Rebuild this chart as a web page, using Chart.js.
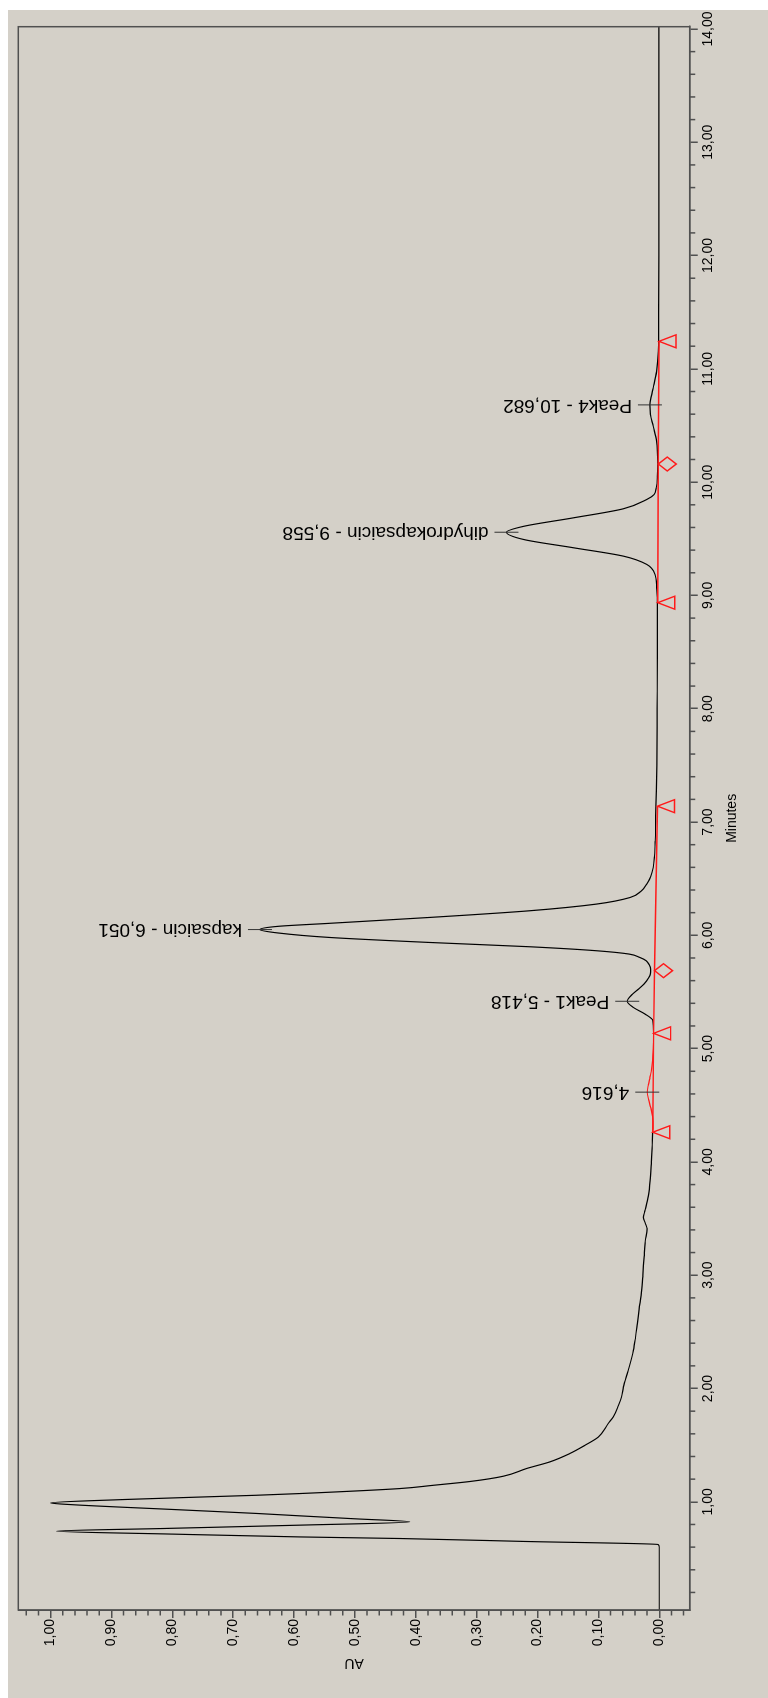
<!DOCTYPE html>
<html>
<head>
<meta charset="utf-8">
<script src="https://cdn.jsdelivr.net/npm/chart.js@4.4.1/dist/chart.umd.min.js"></script>
<style>
  html, body { margin: 0; padding: 0; background: #fff; }
  body { width: 768px; height: 1698px; overflow: hidden; position: relative; }
  /* chart is drawn landscape, then turned a quarter to the left */
  #wrap { position: absolute; left: 0; top: 0; width: 1698px; height: 768px;
          transform-origin: 0 0; transform: translate(0, 1698px) rotate(-90deg); }
</style>
</head>
<body>
<div id="wrap"><canvas id="chromChart" width="1698" height="768"></canvas></div>
<script>
// detector trace
const traceMinutes = [0.045, 0.30, 0.60, 0.623, 0.65, 0.676, 0.69, 0.715, 0.741, 0.765, 0.794, 0.823, 0.85, 0.876, 0.897, 0.93, 0.976, 0.99, 1.02, 1.058,
  1.073, 1.117, 1.146, 1.18, 1.226, 1.294, 1.352, 1.426, 1.499, 1.572, 1.69, 1.749, 1.852, 1.925, 2.013, 2.16, 2.337, 2.45, 2.572, 2.70,
  2.866, 3.00, 3.16, 3.30, 3.41, 3.46, 3.512, 3.56, 3.60, 3.70, 3.836, 4.00, 4.15, 4.262, 4.306, 4.40, 4.482, 4.55, 4.616, 4.68,
  4.747, 4.82, 4.894, 5.00, 5.135, 5.247, 5.306, 5.364, 5.418, 5.482, 5.53, 5.57, 5.62, 5.659, 5.70, 5.74, 5.776, 5.805, 5.835, 5.864,
  5.899, 5.937, 5.981, 6.02, 6.051, 6.08, 6.105, 6.158, 6.217, 6.276, 6.334, 6.39, 6.452, 6.52, 6.599, 6.70, 6.834, 7.00, 7.14, 7.50,
  8.00, 8.50, 8.936, 9.068, 9.186, 9.274, 9.347, 9.421, 9.494, 9.558, 9.61, 9.685, 9.765, 9.847, 9.891, 9.95, 10.05, 10.16, 10.36, 10.494,
  10.60, 10.682, 10.76, 10.832, 10.979, 11.155, 11.50, 12.00, 13.00, 14.02];
const traceAU = [0, 0, 0, 0.002, 0.22, 0.426, 0.59, 0.80, 0.99, 0.81, 0.59, 0.41, 0.50, 0.59, 0.661, 0.79, 0.969, 1.0, 0.88, 0.661,
  0.59, 0.426, 0.371, 0.31, 0.256, 0.218, 0.180, 0.147, 0.122, 0.100, 0.084, 0.0756, 0.067, 0.062, 0.059, 0.051, 0.0425, 0.039, 0.036, 0.033,
  0.029, 0.027, 0.025, 0.023, 0.020, 0.023, 0.026, 0.024, 0.022, 0.018, 0.015, 0.013, 0.0115, 0.0108, 0.0100, 0.011, 0.0141, 0.0175, 0.0197, 0.018,
  0.0153, 0.0125, 0.0108, 0.0098, 0.0095, 0.0105, 0.0235, 0.0427, 0.0526, 0.0437, 0.033, 0.0251, 0.018, 0.0145, 0.0141, 0.0165, 0.0215, 0.032, 0.050, 0.103,
  0.2125, 0.377, 0.541, 0.625, 0.656, 0.625, 0.545, 0.377, 0.2125, 0.103, 0.048, 0.030, 0.0207, 0.014, 0.0099, 0.0078, 0.0066, 0.006, 0.0055, 0.004,
  0.0035, 0.003, 0.003, 0.0043, 0.0071, 0.0207, 0.059, 0.141, 0.223, 0.251, 0.223, 0.141, 0.059, 0.0207, 0.0085, 0.005, 0.003, 0.0025, 0.0043, 0.0099,
  0.0145, 0.0153, 0.013, 0.0099, 0.0043, 0.0016, 0.001, 0.0008, 0.0006, 0.0005];

// integration baselines (red) and their start/end marks
const base1Minutes = [4.262, 5.135, 5.688, 7.14];
const base1AU = [0.0108, 0.0093, 0.0078, 0.0030];
const base1Marks = ['tri', 'tri', 'dia', 'tri'];
const base2Minutes = [8.936, 10.16, 11.243];
const base2AU = [0.0026, 0.0016, 0.0005];
const base2Marks = ['tri', 'dia', 'tri'];

// peak annotations
const peakNames = ['4,616', 'Peak1 - 5,418', 'kapsaicin - 6,051', 'dihydrokapsaicin - 9,558', 'Peak4 - 10,682'];
const peakMinutes = [4.616, 5.418, 6.051, 9.558, 10.682];
const peakAU = [0.0197, 0.0526, 0.656, 0.251, 0.0153];

const minuteTicks = [1, 2, 3, 4, 5, 6, 7, 8, 9, 10, 11, 12, 13, 14];
const auTicks = [0, 0.1, 0.2, 0.3, 0.4, 0.5, 0.6, 0.7, 0.8, 0.9, 1.0];

const FONT = '"Liberation Sans", Arial, sans-serif';
const AXIS_GREY = '#505050';
const RED_FROM = 4.262, RED_TO = 5.135;

const fmt = v => v.toFixed(2).replace('.', ',');
const pts = (xs, ys) => xs.map((x, i) => ({ x: x, y: ys[i] }));

function drawMark(c, kind, px, py) {
    c.beginPath();
    if (kind === 'tri') {
        c.moveTo(px, py);
        c.lineTo(px - 6.5, py + 17);
        c.lineTo(px + 6.5, py + 17);
    } else {
        c.moveTo(px, py);
        c.lineTo(px + 7, py + 9);
        c.lineTo(px, py + 18);
        c.lineTo(px - 7, py + 9);
    }
    c.closePath();
    c.stroke();
}

const decor = {
    id: 'decor',
    beforeDraw(chart) {
        const c = chart.ctx;
        c.save();
        c.fillStyle = '#d4d0c8';
        c.fillRect(0, 8, 1688, 760);
        c.restore();
    },
    afterDraw(chart) {
        const c = chart.ctx, a = chart.chartArea;
        const xs = chart.scales.x, ys = chart.scales.y;
        c.save();

        // frame round the plot
        c.strokeStyle = AXIS_GREY;
        c.lineWidth = 1.5;
        c.strokeRect(a.left, a.top, a.right - a.left, a.bottom - a.top);

        // minor ticks
        c.beginPath();
        for (let i = 1; i <= 70; i++) {
            if (i % 5 === 0) continue;
            const px = xs.getPixelForValue(i * 0.2);
            if (px < a.left || px > a.right) continue;
            c.moveTo(px, a.bottom);
            c.lineTo(px, a.bottom + 5.5);
        }
        for (let i = -2; i <= 52; i++) {
            if (i % 5 === 0) continue;
            const py = ys.getPixelForValue(i * 0.02);
            if (py < a.top || py > a.bottom) continue;
            c.moveTo(a.left, py);
            c.lineTo(a.left - 5.5, py);
        }
        c.stroke();

        // baseline marks
        c.strokeStyle = '#ff1a1a';
        c.lineWidth = 1.4;
        [[base1Minutes, base1AU, base1Marks], [base2Minutes, base2AU, base2Marks]].forEach(([mx, my, mk]) => {
            mx.forEach((m, i) => drawMark(c, mk[i], xs.getPixelForValue(m), ys.getPixelForValue(my[i])));
        });

        // peak labels
        c.strokeStyle = '#333';
        c.lineWidth = 1;
        c.fillStyle = '#000';
        c.font = '19px ' + FONT;
        peakNames.forEach((name, i) => {
            const px = xs.getPixelForValue(peakMinutes[i]);
            const py = ys.getPixelForValue(peakAU[i]);
            c.beginPath();
            c.moveTo(px, py - 12);
            c.lineTo(px, py + 12);
            c.stroke();
            c.save();
            c.translate(px, py - 18);
            c.rotate(-Math.PI / 2);
            c.textAlign = 'left';
            c.textBaseline = 'middle';
            c.fillText(name, 0, 0);
            c.restore();
        });
        c.restore();
    }
};

const ctx = document.getElementById('chromChart').getContext('2d');
new Chart(ctx, {
    type: 'line',
    data: {
        datasets: [
            {
                data: pts(traceMinutes, traceAU),
                borderColor: '#000',
                borderWidth: 1.2,
                pointRadius: 0,
                cubicInterpolationMode: 'monotone',
                order: 2,
                segment: {
                    borderColor: s => (s.p0.parsed.x >= RED_FROM - 1e-9 && s.p1.parsed.x <= RED_TO + 1e-9) ? '#ff1a1a' : '#000'
                }
            },
            { data: pts(base1Minutes, base1AU), borderColor: '#ff1a1a', borderWidth: 1.4, pointRadius: 0, tension: 0, order: 1 },
            { data: pts(base2Minutes, base2AU), borderColor: '#ff1a1a', borderWidth: 1.4, pointRadius: 0, tension: 0, order: 1 }
        ]
    },
    options: {
        responsive: false,
        animation: false,
        layout: { padding: { top: 18.3, right: 26.7, left: 0, bottom: 0 } },
        plugins: { legend: { display: false }, tooltip: { enabled: false } },
        scales: {
            x: {
                type: 'linear',
                min: 0.045,
                max: 14.02,
                afterBuildTicks: s => { s.ticks = minuteTicks.map(v => ({ value: v })); },
                afterFit: s => { s.height = 78.3; },
                ticks: { callback: fmt, font: { size: 14, family: FONT }, color: '#000', padding: 2, maxRotation: 0, autoSkip: false },
                grid: { drawOnChartArea: false, tickLength: 8, color: AXIS_GREY, lineWidth: 1.5 },
                border: { display: true, color: AXIS_GREY, width: 1.5 },
                title: { display: true, text: 'Minutes', color: '#000', font: { size: 14, family: FONT }, padding: { top: 0, bottom: 27.6 } }
            },
            y: {
                type: 'linear',
                min: -0.05,
                max: 1.053,
                afterBuildTicks: s => { s.ticks = auTicks.map(v => ({ value: v })); },
                afterFit: s => { s.width = 88; },
                ticks: { callback: fmt, font: { size: 14, family: FONT }, color: '#000', padding: 1, autoSkip: false },
                grid: { drawOnChartArea: false, tickLength: 8, color: AXIS_GREY, lineWidth: 1.5 },
                border: { display: true, color: AXIS_GREY, width: 1.5 },
                title: { display: true, text: 'AU', color: '#000', font: { size: 14, family: FONT }, padding: { top: 26.6, bottom: 0 } }
            }
        }
    },
    plugins: [decor]
});
</script>
</body>
</html>
